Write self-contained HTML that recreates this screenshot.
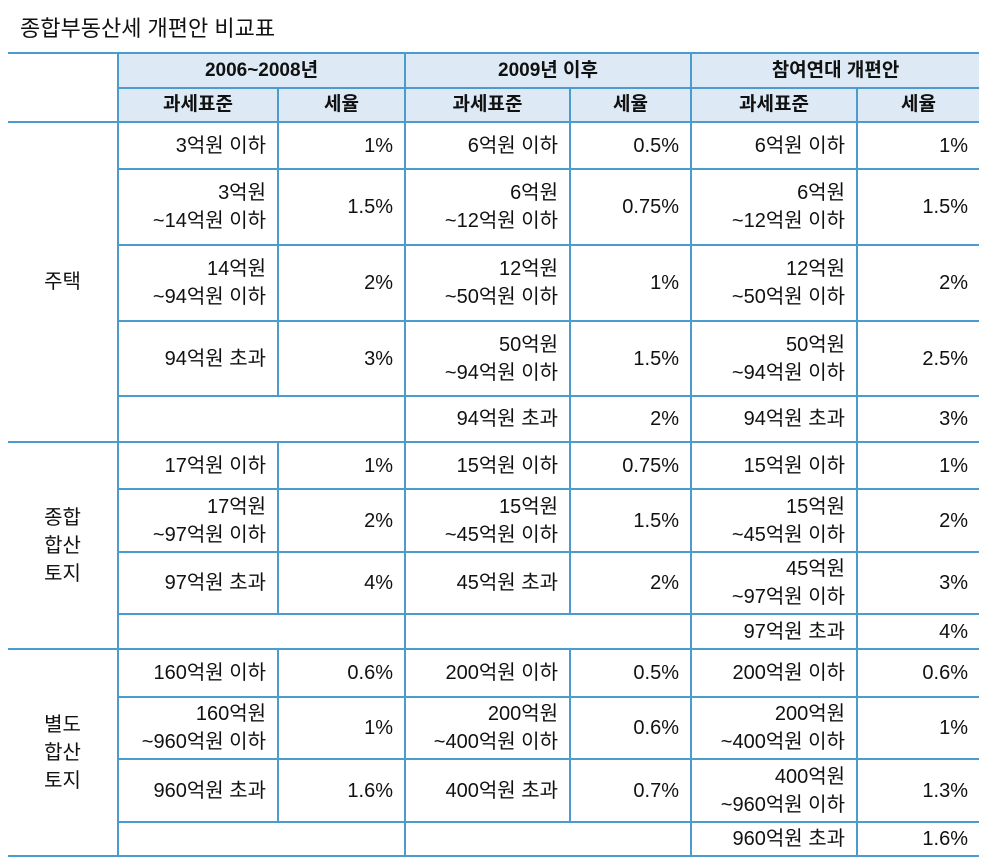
<!DOCTYPE html>
<html><head><meta charset="utf-8">
<style>
body{margin:0;background:#fff;width:987px;height:868px;overflow:hidden;font-family:"Liberation Sans","Noto Sans CJK KR",sans-serif;color:#111;}
.title{position:absolute;left:20px;top:11px;font-size:22px;}
table{position:absolute;left:8px;top:52px;border-collapse:collapse;table-layout:fixed;width:971px;}
td{border:2px solid #4b9bcf;font-size:20px;padding:0 11px 0 4px;text-align:right;line-height:28px;}
tr td:first-child{border-left:none;}
tr td:last-child{border-right:none;}
.h td{background:#dde9f5;text-align:center;font-weight:bold;font-size:19px;padding:0;}
.h td.blank{background:#fff;}
td.cat{text-align:center;padding:0;}
</style></head><body>
<div class="title">종합부동산세 개편안 비교표</div>
<table>
<colgroup><col style="width:110px"><col style="width:160px"><col style="width:127px"><col style="width:165px"><col style="width:121px"><col style="width:166px"><col style="width:122px"></colgroup>
<tr class="h" style="height:35px"><td class="blank" rowspan="2" style="border-top:2px solid #4b9bcf"></td><td colspan="2">2006~2008년</td><td colspan="2">2009년 이후</td><td colspan="2">참여연대 개편안</td></tr>
<tr class="h" style="height:34px"><td>과세표준</td><td>세율</td><td>과세표준</td><td>세율</td><td>과세표준</td><td>세율</td></tr>

<tr style="height:47px"><td class="cat" rowspan="5">주택</td><td>3억원 이하</td><td>1%</td><td>6억원 이하</td><td>0.5%</td><td>6억원 이하</td><td>1%</td></tr>
<tr style="height:76px"><td>3억원<br>~14억원 이하</td><td>1.5%</td><td>6억원<br>~12억원 이하</td><td>0.75%</td><td>6억원<br>~12억원 이하</td><td>1.5%</td></tr>
<tr style="height:76px"><td>14억원<br>~94억원 이하</td><td>2%</td><td>12억원<br>~50억원 이하</td><td>1%</td><td>12억원<br>~50억원 이하</td><td>2%</td></tr>
<tr style="height:75px"><td>94억원 초과</td><td>3%</td><td>50억원<br>~94억원 이하</td><td>1.5%</td><td>50억원<br>~94억원 이하</td><td>2.5%</td></tr>
<tr style="height:46px"><td colspan="2"></td><td>94억원 초과</td><td>2%</td><td>94억원 초과</td><td>3%</td></tr>

<tr style="height:47px"><td class="cat" rowspan="4">종합<br>합산<br>토지</td><td>17억원 이하</td><td>1%</td><td>15억원 이하</td><td>0.75%</td><td>15억원 이하</td><td>1%</td></tr>
<tr style="height:63px"><td>17억원<br>~97억원 이하</td><td>2%</td><td>15억원<br>~45억원 이하</td><td>1.5%</td><td>15억원<br>~45억원 이하</td><td>2%</td></tr>
<tr style="height:62px"><td>97억원 초과</td><td>4%</td><td>45억원 초과</td><td>2%</td><td>45억원<br>~97억원 이하</td><td>3%</td></tr>
<tr style="height:35px"><td colspan="2"></td><td colspan="2"></td><td>97억원 초과</td><td>4%</td></tr>

<tr style="height:48px"><td class="cat" rowspan="4">별도<br>합산<br>토지</td><td>160억원 이하</td><td>0.6%</td><td>200억원 이하</td><td>0.5%</td><td>200억원 이하</td><td>0.6%</td></tr>
<tr style="height:62px"><td>160억원<br>~960억원 이하</td><td>1%</td><td>200억원<br>~400억원 이하</td><td>0.6%</td><td>200억원<br>~400억원 이하</td><td>1%</td></tr>
<tr style="height:63px"><td>960억원 초과</td><td>1.6%</td><td>400억원 초과</td><td>0.7%</td><td>400억원<br>~960억원 이하</td><td>1.3%</td></tr>
<tr style="height:34px"><td colspan="2"></td><td colspan="2"></td><td>960억원 초과</td><td>1.6%</td></tr>
</table>
</body></html>
